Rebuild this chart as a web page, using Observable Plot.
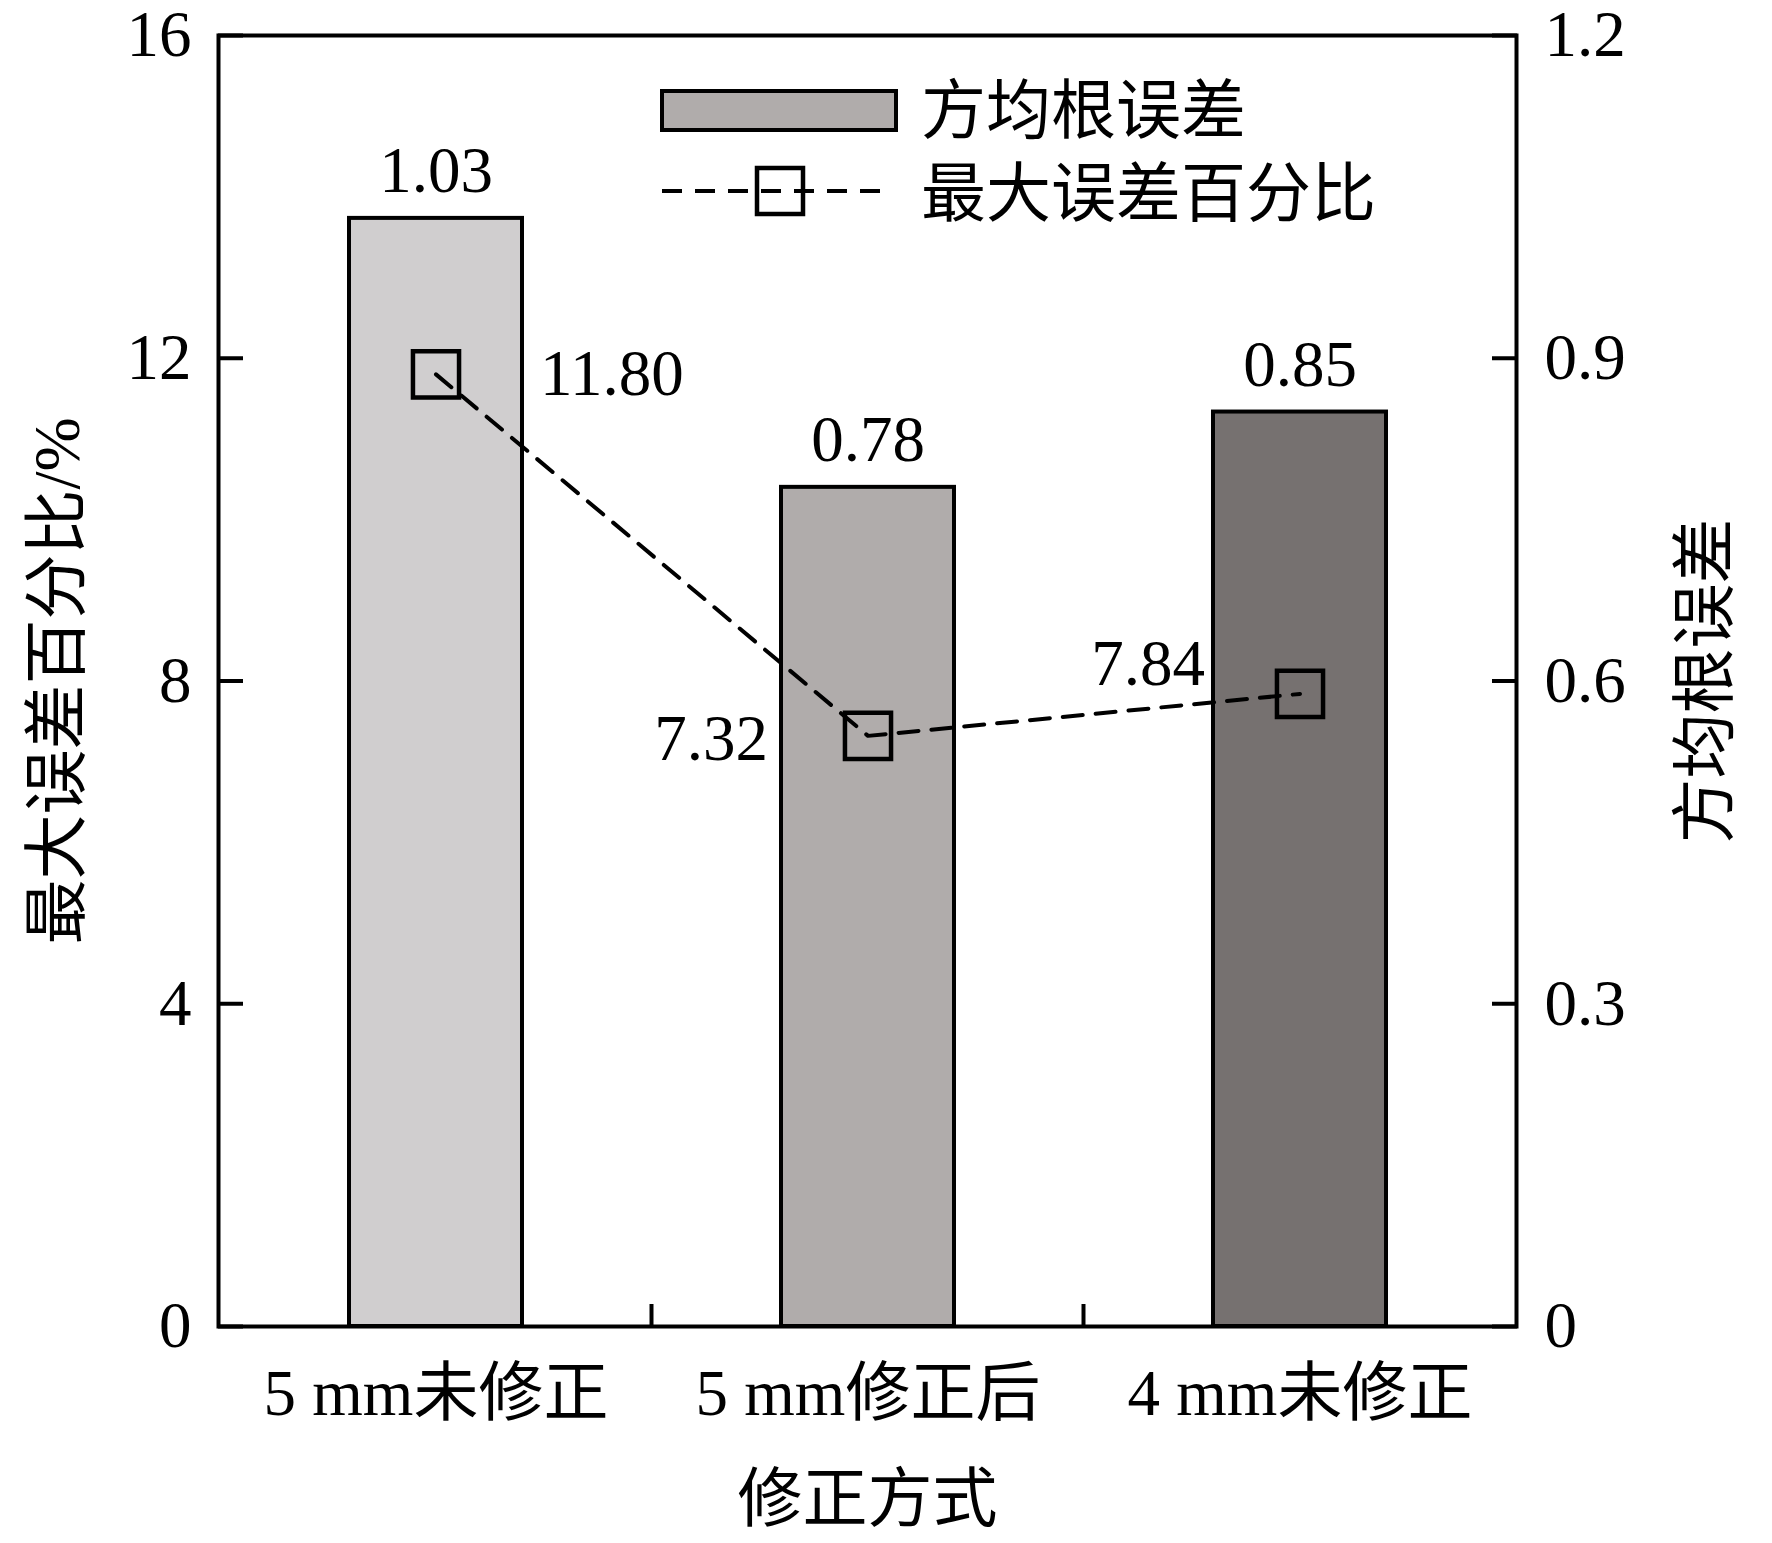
<!DOCTYPE html>
<html>
<head>
<meta charset="utf-8">
<script src="https://cdn.jsdelivr.net/npm/d3@7"></script>
<script src="https://cdn.jsdelivr.net/npm/@observablehq/plot@0.6"></script>
<style>
  html, body { margin: 0; padding: 0; background: #fff; }
  #wrap { position: relative; width: 1772px; height: 1543px; }
  #legend { position: absolute; left: 0; top: 0; pointer-events: none; }
</style>
</head>
<body>
<div id="wrap"></div>
<script>
const categories = ["5 mm未修正", "5 mm修正后", "4 mm未修正"];
const rmsError = [1.03, 0.78, 0.85];
const maxErrorPct = [11.80, 7.32, 7.84];
const barColors = ["#d0cecf", "#b0acab", "#767170"];
const leftTicks = [0, 4, 8, 12, 16];
const rightTicks = [0, 0.3, 0.6, 0.9, 1.2];
const leftMax = 16, rightMax = 1.2;
const xTitle = "修正方式";
const yLeftTitle = "最大误差百分比/%";
const yRightTitle = "方均根误差";
const legendLabels = ["方均根误差", "最大误差百分比"];

const FONT = '"Liberation Serif", "Times New Roman", "Noto Sans CJK SC", serif';
const FS = 65;
const k = leftMax / rightMax;

const data = categories.map((c, i) => ({
  cat: c, rms: rmsError[i], pct: maxErrorPct[i], color: barColors[i], rmsScaled: rmsError[i] * k
}));

// inward ticks at band boundaries on the x axis
function boundaryTicks(index, scales, values, dims) {
  const x = scales.x;
  const step = x.step ? x.step() : scales.scales.x.step;
  const bw = x.bandwidth ? x.bandwidth() : scales.scales.x.bandwidth;
  const gap = (step - bw) / 2;
  const yb = dims.height - dims.marginBottom;
  const g = d3.create("svg:g");
  for (const c of categories.slice(1)) {
    const px = x(c) - gap;
    g.append("line").attr("x1", px).attr("x2", px).attr("y1", yb).attr("y2", yb - 22)
      .attr("stroke", "black").attr("stroke-width", 4);
  }
  return g.node();
}

const chart = Plot.plot({
  width: 1772,
  height: 1543,
  marginLeft: 218,
  marginRight: 256,
  marginTop: 35,
  marginBottom: 217,
  style: { fontFamily: FONT, fontSize: FS + "px", background: "white", color: "black" },
  x: { type: "band", domain: categories, paddingInner: 0.6, paddingOuter: 0.3, label: null },
  y: { domain: [0, leftMax], label: null },
  color: { type: "identity" },
  marks: [
    Plot.barY(data, { x: "cat", y: "rmsScaled", fill: "color", stroke: "black", strokeWidth: 4 }),
    Plot.line(data, { x: "cat", y: "pct", stroke: "black", strokeWidth: 4, strokeDasharray: "20,13" }),
    Plot.dot(data, { x: "cat", y: "pct", symbol: "square", r: 26, fill: "none", stroke: "black", strokeWidth: 4.5 }),
    Plot.text(data, { x: "cat", y: "rmsScaled", text: d => d.rms.toFixed(2), dy: -47, lineAnchor: "middle", fontSize: FS }),
    Plot.text([data[0]], { x: "cat", y: "pct", text: d => d.pct.toFixed(2), dx: 104, textAnchor: "start", lineAnchor: "middle", fontSize: FS }),
    Plot.text([data[1]], { x: "cat", y: "pct", text: d => d.pct.toFixed(2), dx: -100, dy: 3, textAnchor: "end", lineAnchor: "middle", fontSize: FS }),
    Plot.text([data[2]], { x: "cat", y: "pct", text: d => d.pct.toFixed(2), dx: -95, dy: -30, textAnchor: "end", lineAnchor: "middle", fontSize: FS }),
    Plot.frame({ stroke: "black", strokeWidth: 4 }),
    Plot.axisX({ tickSize: 0, tickPadding: 42, fontSize: FS, label: null }),
    Plot.axisY(leftTicks, {
      anchor: "left", tickSize: -25, tickPadding: 52, strokeWidth: 4, fontSize: FS, label: null,
      tickFormat: d => String(d)
    }),
    Plot.axisY(rightTicks.map(v => v * k), {
      anchor: "right", tickSize: -25, tickPadding: 53, strokeWidth: 4, fontSize: FS, label: null,
      tickFormat: d => String(+(d / k).toFixed(1))
    }),
    boundaryTicks,
    Plot.text([xTitle], { frameAnchor: "bottom", dy: 174, fontSize: FS, lineAnchor: "middle", textAnchor: "middle" }),
    Plot.text([yLeftTitle], { frameAnchor: "left", dx: -160, rotate: -90, fontSize: FS, lineAnchor: "middle", textAnchor: "middle" }),
    Plot.text([yRightTitle], { frameAnchor: "right", dx: 190, rotate: -90, fontSize: FS, lineAnchor: "middle", textAnchor: "middle" })
  ]
});

const wrap = document.getElementById("wrap");
wrap.appendChild(chart);

// legend overlay
const lg = d3.create("svg").attr("id", "legend").attr("width", 1772).attr("height", 1543);
lg.append("rect").attr("x", 662).attr("y", 91).attr("width", 234).attr("height", 39)
  .attr("fill", barColors[1]).attr("stroke", "black").attr("stroke-width", 4);
lg.append("text").attr("x", 921).attr("y", 111).attr("dominant-baseline", "central")
  .attr("font-size", FS).attr("font-family", FONT).text(legendLabels[0]);
lg.append("line").attr("x1", 662).attr("x2", 881).attr("y1", 191).attr("y2", 191)
  .attr("stroke", "black").attr("stroke-width", 4).attr("stroke-dasharray", "20,13");
lg.append("rect").attr("x", 757).attr("y", 168).attr("width", 46).attr("height", 46)
  .attr("fill", "none").attr("stroke", "black").attr("stroke-width", 4.5);
lg.append("text").attr("x", 921).attr("y", 194).attr("dominant-baseline", "central")
  .attr("font-size", FS).attr("font-family", FONT).text(legendLabels[1]);
wrap.appendChild(lg.node());
</script>
</body>
</html>
